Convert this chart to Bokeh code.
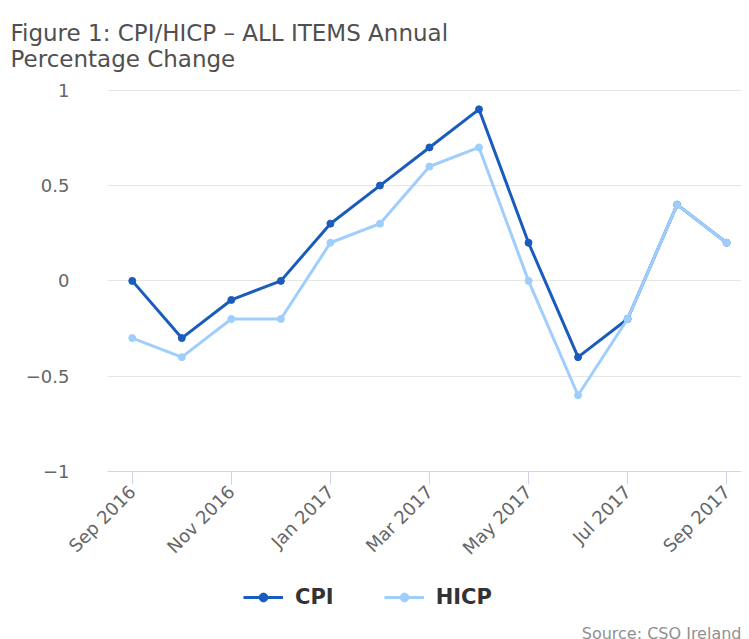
import math
from bokeh.plotting import figure
from bokeh.models import Range1d, FixedTicker, Legend, LegendItem, Label
from bokeh.layouts import column
from bokeh.embed import file_html
from bokeh.resources import INLINE

months = ["Sep 2016", "Oct 2016", "Nov 2016", "Dec 2016", "Jan 2017", "Feb 2017",
          "Mar 2017", "Apr 2017", "May 2017", "Jun 2017", "Jul 2017", "Aug 2017", "Sep 2017"]
cpi = [0.0, -0.3, -0.1, 0.0, 0.3, 0.5, 0.7, 0.9, 0.2, -0.4, -0.2, 0.4, 0.2]
hicp = [-0.3, -0.4, -0.2, -0.2, 0.2, 0.3, 0.6, 0.7, 0.0, -0.6, -0.2, 0.4, 0.2]
y_ticks = [-1, -0.5, 0, 0.5, 1]
y_tick_labels = ["\u22121", "\u22120.5", "0", "0.5", "1"]
series_names = ["CPI", "HICP"]

CPI_COLOR = "#1a5cbd"
HICP_COLOR = "#a0cefc"
FONT = "DejaVu Sans"

xs = list(range(len(months)))
nan = float("nan")

p = figure(frame_width=634, frame_height=382, output_backend="svg", toolbar_location=None,
           x_range=Range1d(-0.5, 12.3), y_range=Range1d(-1, 1.004),
           min_border_left=107, min_border_right=0, min_border_top=89, min_border_bottom=90)
p.outline_line_color = None
p.background_fill_color = "white"

# axes
p.xaxis.ticker = FixedTicker(ticks=xs[::2])
p.xaxis.major_label_overrides = {i: months[i] for i in xs}
p.xaxis.major_label_orientation = math.pi / 4
p.xaxis.major_label_text_font = FONT
p.xaxis.major_label_text_font_size = "18px"
p.xaxis.major_label_text_color = "#666666"
p.xaxis.axis_line_color = "#ccd6eb"
p.xaxis.major_tick_line_color = "#ccd6eb"
p.xaxis.major_tick_in = 0
p.xaxis.major_tick_out = 13
p.xaxis.minor_tick_line_color = None
p.xaxis.major_label_standoff = 4
p.xgrid.grid_line_color = None

p.yaxis.ticker = FixedTicker(ticks=y_ticks)
p.yaxis.major_label_overrides = {t: l for t, l in zip(y_ticks, y_tick_labels)}
p.yaxis.major_label_text_font = FONT
p.yaxis.major_label_text_font_size = "18px"
p.yaxis.major_label_text_color = "#666666"
p.yaxis.axis_line_color = None
p.yaxis.major_tick_line_color = None
p.yaxis.minor_tick_line_color = None
p.yaxis.major_label_standoff = 32
p.ygrid.grid_line_color = "#e6e6e6"
p.ygrid.ticker = FixedTicker(ticks=y_ticks)

# series
p.line(xs, cpi, line_color=CPI_COLOR, line_width=3)
p.scatter(xs, cpi, size=7, fill_color=CPI_COLOR, line_color=CPI_COLOR)
p.line(xs, hicp, line_color=HICP_COLOR, line_width=3)
p.scatter(xs, hicp, size=7, fill_color=HICP_COLOR, line_color=HICP_COLOR)

# title (two lines)
title_lines = ["Figure 1: CPI/HICP \u2013 ALL ITEMS Annual", "Percentage Change"]
p.title.text = "\n".join(title_lines)
p.title.text_font = FONT
p.title.text_font_size = "23px"
p.title.text_font_style = "normal"
p.title.text_color = "#505050"
p.title.align = "left"
p.title.offset = -97
p.title.standoff = 35

# legend + source strip (frame aligned with the main plot's frame by the column)
q = figure(width=741, height=76, output_backend="svg", toolbar_location=None,
           x_range=Range1d(0, 1), y_range=Range1d(0, 1),
           min_border=0, x_axis_type=None, y_axis_type=None)
q.outline_line_color = None
q.xgrid.grid_line_color = None
q.ygrid.grid_line_color = None
ql1 = q.line([nan], [nan], line_color=CPI_COLOR, line_width=3)
qs1 = q.scatter([nan], [nan], size=7, fill_color=CPI_COLOR, line_color=CPI_COLOR)
ql2 = q.line([nan], [nan], line_color=HICP_COLOR, line_width=3)
qs2 = q.scatter([nan], [nan], size=7, fill_color=HICP_COLOR, line_color=HICP_COLOR)

legend = Legend(items=[LegendItem(label=series_names[0], renderers=[ql1, qs1]),
                       LegendItem(label=series_names[1], renderers=[ql2, qs2])],
                orientation="horizontal", location=(136, 36),
                label_text_font=FONT, label_text_font_size="21px",
                label_text_font_style="bold", label_text_color="#333333",
                glyph_width=40, glyph_height=22, label_standoff=12, spacing=50,
                padding=0, margin=0, border_line_color=None, background_fill_alpha=0)
q.add_layout(legend, "center")

q.add_layout(Label(x=634, y=3, x_units="screen", y_units="screen",
                   text="Source: CSO Ireland", text_font=FONT, text_font_size="16px",
                   text_color="#909090", text_align="right", text_baseline="bottom"))

open("out.html", "w").write(file_html(column(p, q, spacing=0), INLINE))
